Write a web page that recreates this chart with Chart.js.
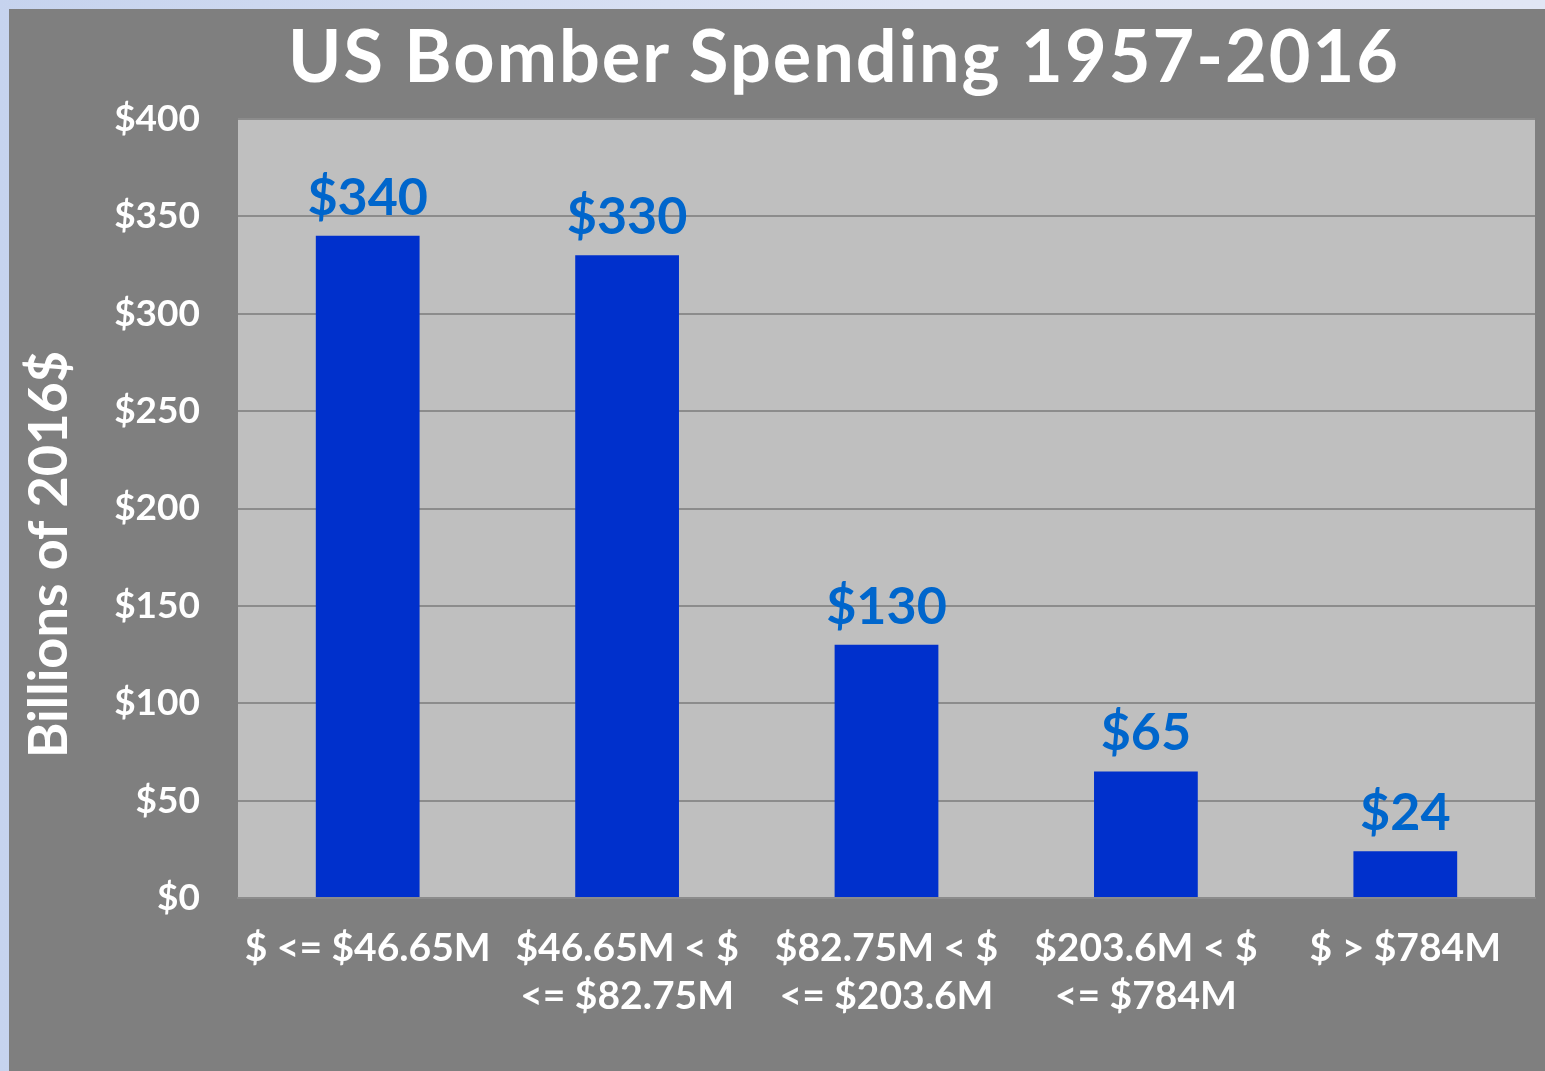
<!DOCTYPE html>
<html>
<head>
<meta charset="utf-8">
<script src="https://cdn.jsdelivr.net/npm/chart.js@4/dist/chart.umd.min.js"></script>
<style>
	html, body { margin:0; padding:0; }
	body { width:1545px; height:1071px; overflow:hidden; background:linear-gradient(90deg, #c6d3ee 0%, #dfe5f5 60%, #e1e6f5 100%); position:relative; font-family:Lato, "Open Sans", sans-serif; }
	#panel { position:absolute; left:9px; top:9px; width:1536px; height:1062px; background:#7f7f7f; }
	#title { position:absolute; left:0; top:2px; width:1670px; text-align:center; color:#fff; font-size:72px; font-weight:bold; letter-spacing:2px; }
	#chart { position:absolute; left:0; top:0; }
</style>
</head>
<body>
<div id="panel">
	<canvas id="chart" width="1536" height="1062"></canvas>
	<div id="title">US Bomber Spending 1957-2016</div>
</div>
<script>
const categories = [
	['$ <= $46.65M'],
	['$46.65M < $', '<= $82.75M'],
	['$82.75M < $', '<= $203.6M'],
	['$203.6M < $', '<= $784M'],
	['$ > $784M'],
]
const spending = [340, 330, 130, 65, 24]
const yTicks = [0, 50, 100, 150, 200, 250, 300, 350, 400]

const plotBg = {
	id: 'plotBg',
	beforeDraw: c => {
		const {ctx, chartArea: a} = c
		ctx.save()
		ctx.fillStyle = '#bfbfbf'
		ctx.fillRect(a.left, a.top, a.right - a.left, a.bottom - a.top)
		ctx.restore()
	}
}

const barLabels = {
	id: 'barLabels',
	afterDatasetsDraw: c => {
		const ctx = c.ctx
		const meta = c.getDatasetMeta(0)
		ctx.save()
		ctx.fillStyle = '#0066cc'
		ctx.font = 'bold 52px Lato, "Open Sans", sans-serif'
		ctx.textAlign = 'center'
		ctx.textBaseline = 'alphabetic'
		meta.data.forEach((b, i) => ctx.fillText('$' + spending[i], b.x, b.y - 21))
		ctx.restore()
	}
}

new Chart(document.getElementById('chart'), {
	type: 'bar',
	data: {
		labels: categories,
		datasets: [{
			label: 'Spending',
			data: spending,
			backgroundColor: '#0030cc',
			barPercentage: 0.4,
			categoryPercentage: 1,
		}]
	},
	options: {
		responsive: false,
		devicePixelRatio: 1,
		animation: false,
		layout: { padding: { top: 110, right: 10, left: 0, bottom: 0 } },
		plugins: {
			legend: { display: false },
			tooltip: { enabled: false },
			title: { display: false },
		},
		scales: {
			x: {
				grid: { display: false, drawTicks: false },
				border: { display: true, color: '#8c8c8c', width: 2 },
				ticks: {
					color: '#fff',
					padding: 26,
					maxRotation: 0,
					autoSkip: false,
					font: { family: 'Lato', size: 39, weight: 'bold', lineHeight: 1.23 },
				},
				afterFit: s => { s.height = 173 },
			},
			y: {
				min: 0,
				max: 400,
				afterBuildTicks: s => { s.ticks = yTicks.map(v => ({value: v})) },
				grid: { color: '#8c8c8c', lineWidth: 2, drawTicks: false },
				border: { display: false },
				ticks: {
					color: '#fff',
					padding: 38,
					font: { family: 'Lato', size: 37, weight: 'bold' },
					callback: v => '$' + v,
				},
				title: {
					display: true,
					text: 'Billions of 2016$       ',
					color: '#fff',
					padding: { top: 8, bottom: 0 },
					font: { family: 'Lato', size: 54, weight: 'bold' },
				},
				afterFit: s => { s.width = 229 },
			}
		}
	},
	plugins: [plotBg, barLabels]
})
</script>
</body>
</html>
